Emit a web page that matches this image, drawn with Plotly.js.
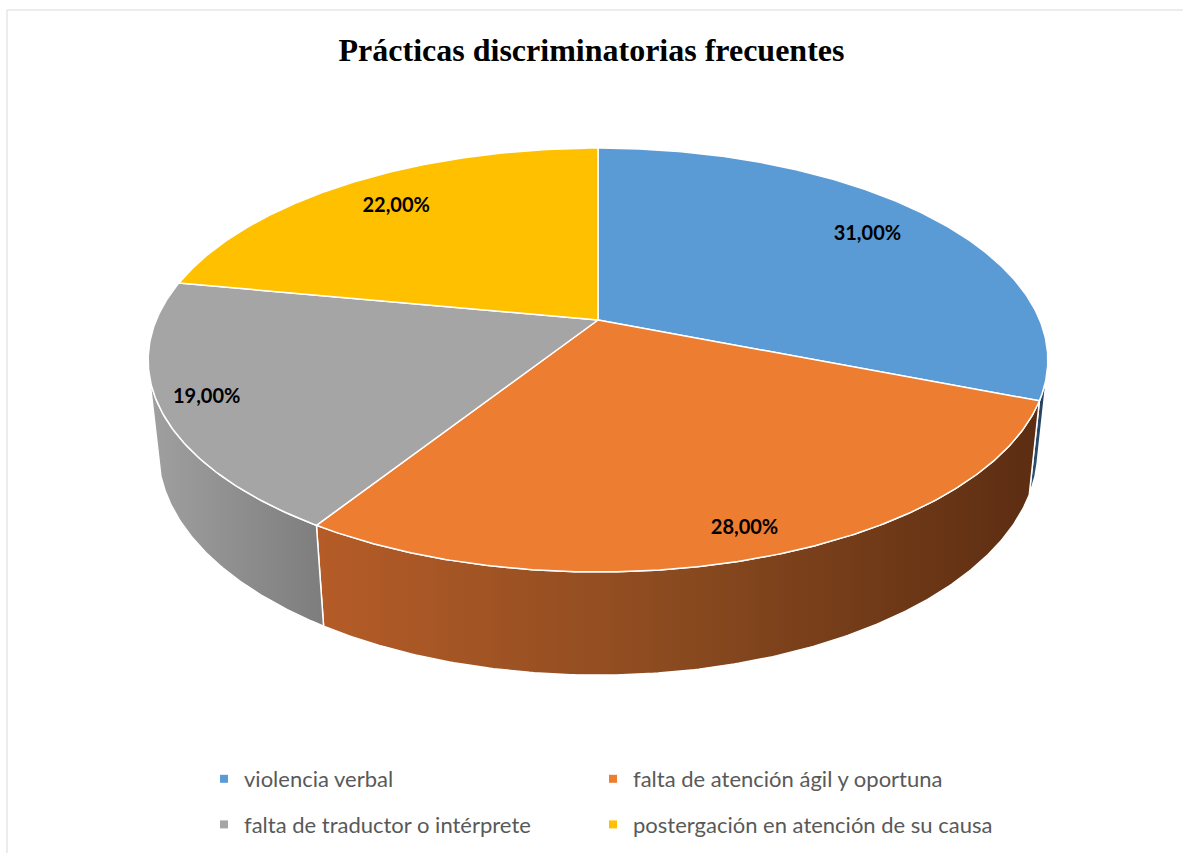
<!DOCTYPE html>
<html>
<head>
<meta charset="utf-8">
<script src="https://cdn.plot.ly/plotly-3.0.1.min.js"></script>
<style>html,body{margin:0;padding:0;background:#fff;}#chart{width:1183px;height:853px;}</style>
</head>
<body>
<div id="chart"></div>
<script>
// ---- data ----
const categories = ['violencia verbal', 'falta de atención ágil y oportuna', 'falta de traductor o intérprete', 'postergación en atención de su causa'];
const values = [31, 28, 19, 22];
const chartTitle = 'Prácticas discriminatorias frecuentes';

// ---- style ----
const topColors = ['#5b9bd5', '#ed7d31', '#a5a5a5', '#ffc000'];
const sideScales = [
  [[0, '#2f5478'], [1, '#1f3b57']],
  [[0, '#b55c28'], [0.5, '#8a4a1f'], [1, '#5c2d12']],
  [[0, '#a0a0a0'], [1, '#7d7d7d']],
  [[0, '#b38600'], [1, '#805f00']]
];
const labelRadius = [0.8, 0.9, 0.9, 0.8];
const legendColumn = [0, 1, 0, 1];

// ---- 3D projection of a tilted disc ----
const PHI = 27 * Math.PI / 180, S = Math.sin(PHI), C = Math.cos(PHI);
const DIST = 4.72, THICK = 0.228, SCALE_Y = 2125, SCALE_X = 2085;
function proj(thetaDeg, Y, r) {
  const a = thetaDeg * Math.PI / 180;
  const X = r * Math.sin(a), Z = r * Math.cos(a);
  const depth = DIST + Z * C - Y * S;
  return [X / depth, (Y * C + Z * S) / depth];
}
// visible side band (front-facing rim)
const lim = Math.acos(-1 / (DIST * C)) * 180 / Math.PI;
const visA = lim, visB = 360 - lim;

const total = values.reduce((a, b) => a + b, 0);
const starts = [], ends = [];
let acc = 0;
values.forEach(v => { starts.push(acc / total * 360); acc += v; ends.push(acc / total * 360); });

function arc(t1, t2, Y, r) {
  const pts = [];
  const n = Math.max(2, Math.ceil(Math.abs(t2 - t1) / 0.5));
  for (let i = 0; i <= n; i++) pts.push(proj(t1 + (t2 - t1) * i / n, Y, r));
  return pts;
}

const traces = [];
// sides
values.forEach((v, i) => {
  const s = Math.max(starts[i], visA), e = Math.min(ends[i], visB);
  if (e <= s) return;
  const pts = arc(s, e, 0, 1).concat(arc(e, s, -THICK, 1));
  pts.push(pts[0]);
  traces.push({
    type: 'scatter', mode: 'lines', x: pts.map(p => p[0]), y: pts.map(p => p[1]),
    fill: 'toself', fillgradient: {type: 'horizontal', colorscale: sideScales[i]},
    line: {color: '#ffffff', width: 1.5}, showlegend: false, hoverinfo: 'skip'
  });
});
// tops
values.forEach((v, i) => {
  const pts = [[0, 0]].concat(arc(starts[i], ends[i], 0, 1));
  pts.push([0, 0]);
  traces.push({
    type: 'scatter', mode: 'lines', x: pts.map(p => p[0]), y: pts.map(p => p[1]),
    fill: 'toself', fillcolor: topColors[i], line: {color: '#ffffff', width: 1.5},
    showlegend: false, name: categories[i], hoverinfo: 'name'
  });
});
// labels
const lab = values.map((v, i) => proj((starts[i] + ends[i]) / 2, 0, labelRadius[i]));
traces.push({
  type: 'scatter', mode: 'text', x: lab.map(p => p[0]), y: lab.map(p => p[1]),
  text: values.map(v => v.toFixed(2).replace('.', ',') + '%'),
  textfont: {family: 'Lato, Roboto, sans-serif', size: 20, color: '#000000', weight: 700},
  textposition: 'middle center', showlegend: false, hoverinfo: 'skip'
});
// legend entries
categories.forEach((c, i) => {
  traces.push({
    type: 'scatter', mode: 'markers', x: [null], y: [null], name: c,
    marker: {symbol: 'square', size: 8, color: topColors[i]},
    legend: legendColumn[i] === 0 ? 'legend' : 'legend2', legendgroup: 'g' + i, showlegend: true
  });
});

const W = 1183, H = 853, CX = 598, CY = 320;
const legendFont = {family: 'Lato, Roboto, sans-serif', size: 22, color: '#595959'};
const legendCommon = {orientation: 'v', xanchor: 'left', y: 1 - 802 / H, yanchor: 'middle',
  itemwidth: 30, font: legendFont, traceorder: 'grouped', tracegroupgap: 14, bgcolor: 'rgba(0,0,0,0)'};
const layout = {
  width: W, height: H,
  margin: {l: 0, r: 0, t: 0, b: 0},
  paper_bgcolor: '#ffffff', plot_bgcolor: '#ffffff',
  title: {text: chartTitle, x: 0.5, xanchor: 'center', xref: 'container', y: 1 - 50 / H, yref: 'container', yanchor: 'middle',
    font: {family: 'Liberation Serif, Times New Roman, serif', size: 32, color: '#000000', weight: 700}},
  xaxis: {range: [-CX / SCALE_X, (W - CX) / SCALE_X], visible: false, fixedrange: true},
  yaxis: {range: [-(H - CY) / SCALE_Y, CY / SCALE_Y], visible: false, fixedrange: true},
  showlegend: true,
  legend: Object.assign({}, legendCommon, {x: 204 / W}),
  legend2: Object.assign({}, legendCommon, {x: 593 / W}),
  shapes: [{type: 'rect', xref: 'paper', yref: 'paper', x0: 7 / W, x1: 1.01, y0: -0.01, y1: 1 - 10 / H,
    line: {color: '#d9d9d9', width: 1}, fillcolor: 'rgba(0,0,0,0)', layer: 'below'}]
};
Plotly.newPlot('chart', traces, layout, {displayModeBar: false, staticPlot: true});
</script>
</body>
</html>
